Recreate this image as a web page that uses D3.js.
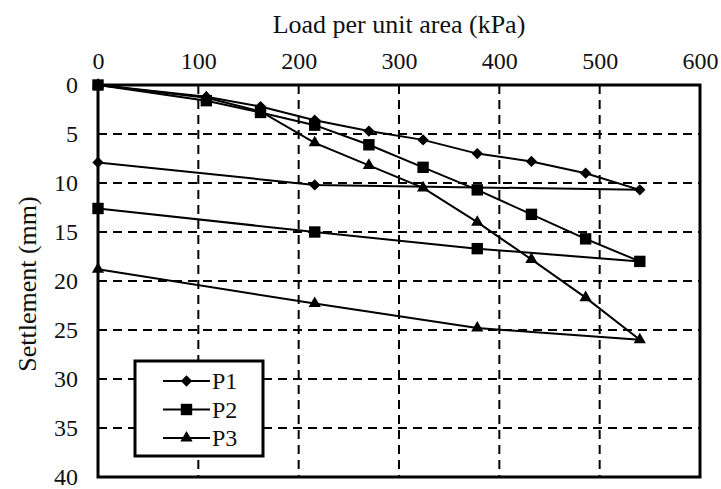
<!DOCTYPE html>
<html>
<head>
<meta charset="utf-8">
<script src="https://cdn.jsdelivr.net/npm/d3@7/dist/d3.min.js"></script>
<style>
  html, body { margin: 0; padding: 0; background: #fff; }
  svg { display: block; }
</style>
</head>
<body>
<svg id="chart" width="721" height="489"></svg>
<script>
// ---- data ----
const xTicks = [0, 100, 200, 300, 400, 500, 600];
const yTicks = [0, 5, 10, 15, 20, 25, 30, 35, 40];
const seriesNames = ["P1", "P2", "P3"];
const p1Load = [0, 108, 162, 216, 270, 324, 378, 432, 486, 540, 216, 0];
const p1Settle = [0, 1.2, 2.2, 3.6, 4.7, 5.6, 7.0, 7.8, 9.0, 10.7, 10.2, 7.9];
const p2Load = [0, 108, 162, 216, 270, 324, 378, 432, 486, 540, 378, 216, 0];
const p2Settle = [0, 1.6, 2.8, 4.1, 6.1, 8.4, 10.7, 13.2, 15.7, 18.0, 16.7, 15.0, 12.6];
const p3Load = [0, 108, 162, 216, 270, 324, 378, 432, 486, 540, 378, 216, 0];
const p3Settle = [0, 1.3, 2.7, 5.9, 8.2, 10.5, 14.0, 17.8, 21.7, 26.0, 24.8, 22.3, 18.8];
const xTitle = "Load per unit area (kPa)";
const yTitle = "Settlement (mm)";

const FONT = "'Liberation Serif', 'Times New Roman', Tinos, Times, serif";

const rhombus = {
  draw(ctx, size) {
    const r = Math.sqrt(size / 2);
    ctx.moveTo(0, -r); ctx.lineTo(r, 0); ctx.lineTo(0, r); ctx.lineTo(-r, 0); ctx.closePath();
  }
};

const series = [
  { name: seriesNames[0], load: p1Load, settle: p1Settle, symbol: rhombus, size: 64 },
  { name: seriesNames[1], load: p2Load, settle: p2Settle, symbol: d3.symbolSquare, size: 130 },
  { name: seriesNames[2], load: p3Load, settle: p3Settle, symbol: d3.symbolTriangle, size: 65 }
];

const svg = d3.select("#chart");
const L = 98, R = 700, T = 85, B = 477;
const x = d3.scaleLinear().domain([0, 600]).range([L, R]);
const y = d3.scaleLinear().domain([0, 40]).range([T, B]);

// grid
const grid = svg.append("g");
grid.selectAll("line.vx").data(xTicks.filter(d => d > 0 && d < 600)).join("line")
  .attr("x1", d => x(d)).attr("x2", d => x(d)).attr("y1", T).attr("y2", B)
  .attr("stroke", "#000").attr("stroke-width", 2).attr("stroke-dasharray", "9,6");
grid.selectAll("line.hy").data(yTicks.filter(d => d > 0 && d < 40)).join("line")
  .attr("x1", L).attr("x2", R).attr("y1", d => y(d)).attr("y2", d => y(d))
  .attr("stroke", "#000").attr("stroke-width", 2).attr("stroke-dasharray", "9,6");

// frame
svg.append("rect").attr("x", L).attr("y", T).attr("width", R - L).attr("height", B - T)
  .attr("fill", "none").attr("stroke", "#000").attr("stroke-width", 3);

// axes (labels only)
const xAxis = d3.axisTop(x).tickValues(xTicks).tickSize(0).tickPadding(16);
const gx = svg.append("g").attr("transform", `translate(0,${T})`).call(xAxis)
  .attr("font-family", FONT).attr("font-size", 24);
gx.select(".domain").remove();
gx.selectAll("text").attr("font-family", FONT).attr("font-size", 24).attr("fill", "#111");

const yAxis = d3.axisLeft(y).tickValues(yTicks).tickSize(0).tickPadding(20);
const gy = svg.append("g").attr("transform", `translate(${L},0)`).call(yAxis)
  .attr("font-family", FONT).attr("font-size", 24);
gy.select(".domain").remove();
gy.selectAll("text").attr("font-family", FONT).attr("font-size", 24).attr("fill", "#111")
  .attr("dy", "0.3em");

// titles
svg.append("text").attr("x", (L + R) / 2).attr("y", 33).attr("text-anchor", "middle")
  .attr("font-family", FONT).attr("font-size", 26).attr("fill", "#111").text(xTitle);
svg.append("text").attr("transform", `translate(36,${(T + B) / 2 + 3}) rotate(-90)`)
  .attr("text-anchor", "middle").attr("font-family", FONT).attr("font-size", 26)
  .attr("fill", "#111").text(yTitle);

// series
const line = d3.line().x(d => x(d[0])).y(d => y(d[1]));
series.forEach(s => {
  const pts = s.load.map((l, i) => [l, s.settle[i]]);
  svg.append("path").datum(pts).attr("d", line)
    .attr("fill", "none").attr("stroke", "#000").attr("stroke-width", 2);
  svg.append("g").selectAll("path").data(pts).join("path")
    .attr("transform", d => `translate(${x(d[0])},${y(d[1])})`)
    .attr("d", d3.symbol().type(s.symbol).size(s.size))
    .attr("fill", "#000");
});

// legend
const lg = svg.append("g");
lg.append("rect").attr("x", 135).attr("y", 361).attr("width", 128).attr("height", 95)
  .attr("fill", "#fff").attr("stroke", "#000").attr("stroke-width", 3);
series.forEach((s, i) => {
  const yy = 381 + i * 28.5;
  lg.append("line").attr("x1", 163).attr("x2", 210).attr("y1", yy).attr("y2", yy)
    .attr("stroke", "#000").attr("stroke-width", 2);
  lg.append("path").attr("transform", `translate(186.5,${yy})`)
    .attr("d", d3.symbol().type(s.symbol).size(s.size)).attr("fill", "#000");
  lg.append("text").attr("x", 212).attr("y", yy + 8).attr("font-family", FONT)
    .attr("font-size", 24).attr("fill", "#111").text(s.name);
});
</script>
</body>
</html>
